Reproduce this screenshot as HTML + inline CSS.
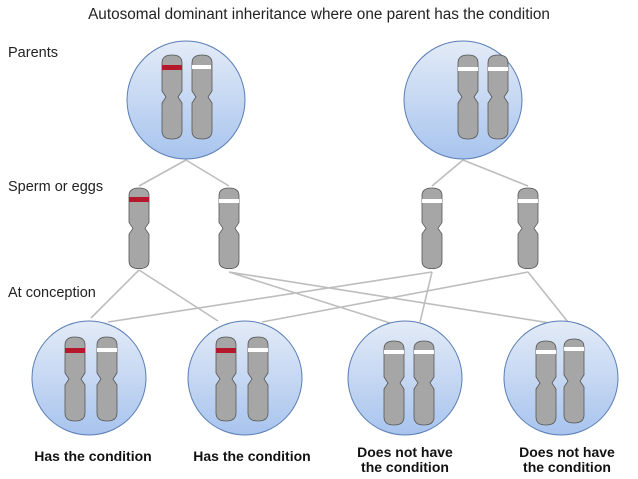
<!DOCTYPE html>
<html><head><meta charset="utf-8"><style>
body{margin:0;background:#fff}
svg{display:block}
text{font-family:"Liberation Sans",sans-serif;}
</style></head><body>
<svg width="638" height="479" viewBox="0 0 638 479" xmlns="http://www.w3.org/2000/svg">
<defs>
<linearGradient id="g" x1="0" y1="0" x2="0" y2="1">
<stop offset="0" stop-color="#e3ebf7"/><stop offset="1" stop-color="#a8c4ee"/>
</linearGradient>
<symbol id="c" viewBox="0 0 20 84" width="20" height="84" overflow="visible">
<path d="M0,8 Q0,0 10,0 Q20,0 20,8 L20,36 L16,42 L20,48 L20,76 Q20,84 10,84 Q0,84 0,76 L0,48 L4,42 L0,36 Z" fill="#a6a6a6" stroke="#555" stroke-width="0.8"/>
</symbol>
</defs>
<text x="319" y="19" font-size="15.3" text-anchor="middle" fill="#222">Autosomal dominant inheritance where one parent has the condition</text>
<text x="8" y="57" font-size="14.5" fill="#222">Parents</text>
<text x="8" y="191" font-size="14.5" fill="#222">Sperm or eggs</text>
<text x="8" y="297" font-size="14.5" fill="#222">At conception</text>
<g stroke="#bdbdbd" stroke-width="1.6" fill="none">
<path d="M186,160 L139,186 M186,160 L229,186 M463,160 L432,186 M463,160 L528,186"/>
<path d="M139,270 L91,318 M139,270 L218,321 M229,272 L390,323 M229,272 L550,323 M432,272 L108,322 M432,272 L420,322 M528,272 L262,322 M528,272 L568,322"/>
</g>
<g fill="url(#g)" stroke="#5a7db5" stroke-width="1">
<circle cx="186" cy="100" r="59"/><circle cx="463" cy="100" r="59"/>
<circle cx="89" cy="378" r="57"/><circle cx="245" cy="378" r="57"/>
<circle cx="405" cy="378" r="57"/><circle cx="561" cy="378" r="57"/>
</g>
<use href="#c" x="162" y="55"/><use href="#c" x="192" y="55"/>
<rect x="162" y="65" width="20" height="5" fill="#b5182b"/><rect x="192" y="65" width="19" height="4" fill="#fff"/>
<use href="#c" x="458" y="55"/><use href="#c" x="488" y="55"/>
<rect x="458" y="67" width="20" height="4" fill="#fff"/><rect x="488" y="67" width="20" height="4" fill="#fff"/>
<g transform="translate(129,188) scale(1,0.96)"><use href="#c" x="0" y="0"/></g>
<rect x="129" y="197" width="20" height="5" fill="#b5182b"/>
<g transform="translate(219,188) scale(1,0.96)"><use href="#c" x="0" y="0"/></g>
<rect x="219" y="199" width="20" height="4" fill="#fff"/>
<g transform="translate(422,188) scale(1,0.96)"><use href="#c" x="0" y="0"/></g>
<rect x="422" y="199" width="20" height="4" fill="#fff"/>
<g transform="translate(518,188) scale(1,0.96)"><use href="#c" x="0" y="0"/></g>
<rect x="518" y="199" width="20" height="4" fill="#fff"/>
<use href="#c" x="65" y="337"/><use href="#c" x="97" y="337"/>
<rect x="65" y="348" width="20" height="5" fill="#b5182b"/><rect x="97" y="348" width="20" height="4" fill="#fff"/>
<use href="#c" x="216" y="337"/><use href="#c" x="248" y="337"/>
<rect x="216" y="348" width="20" height="5" fill="#b5182b"/><rect x="248" y="348" width="20" height="4" fill="#fff"/>
<use href="#c" x="384" y="341"/><use href="#c" x="414" y="341"/>
<rect x="384" y="350" width="20" height="4" fill="#fff"/><rect x="414" y="350" width="20" height="4" fill="#fff"/>
<use href="#c" x="536" y="341"/><use href="#c" x="564" y="339"/>
<rect x="536" y="350" width="20" height="4" fill="#fff"/><rect x="564" y="347" width="20" height="4" fill="#fff"/>
<g font-size="14" font-weight="bold" fill="#111" text-anchor="middle">
<text x="93" y="461">Has the condition</text>
<text x="252" y="461">Has the condition</text>
<text x="405" y="457">Does not have</text><text x="405" y="472">the condition</text>
<text x="567" y="457">Does not have</text><text x="567" y="472">the condition</text>
</g>
</svg>
</body></html>
